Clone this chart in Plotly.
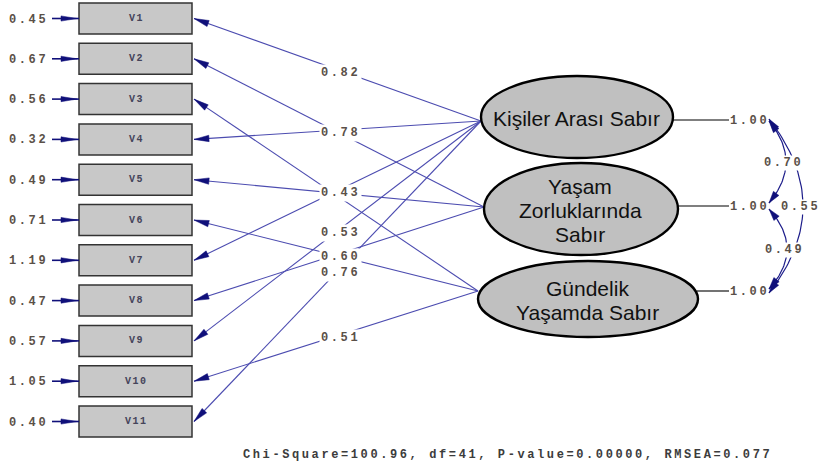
import plotly.graph_objects as go
import numpy as np

# ---------------- data ----------------
observed = ["V1", "V2", "V3", "V4", "V5", "V6", "V7", "V8", "V9", "V10", "V11"]
error_variances = [0.45, 0.67, 0.56, 0.32, 0.49, 0.71, 1.19, 0.47, 0.57, 1.05, 0.40]
latent_label_lines = [["Kişiler Arası Sabır"],
                      ["Yaşam", "Zorluklarında", "Sabır"],
                      ["Gündelik", "Yaşamda Sabır"]]
latent_variances = [1.00, 1.00, 1.00]
indicator_factor = [0, 1, 2, 0, 1, 2, 0, 1, 0, 2, 0]
# loadings whose labels are hidden under other labels in the picture: None
loadings = [0.82, None, None, 0.78, None, None, 0.43, 0.60, 0.53, 0.51, 0.76]
cov_pairs = [(0, 1), (1, 2), (0, 2)]
cov_values = [0.70, 0.49, 0.55]
chi_square = "100.96"
df_value = "41"
p_value = "0.00000"
rmsea = "0.077"

# ---------------- layout / style constants ----------------
W, H = 821, 467
BOX_X0, BOX_X1 = 79, 192
BOX_Y0, BOX_STEP, BOX_HALF = 18.5, 40.3, 15.5
ERR_LABEL_X, ERR_LINE_X0 = 49, 52
LAT_C = [(577, 117), (581, 209), (588, 299)]
LAT_R = [(96, 41), (97, 46), (110, 38)]
LAT_ANCHOR = [(481, 121), (484, 207), (478, 291)]
LAT_LINE_SP = 24
VAR_Y = [120, 206, 291]
VAR_LINE_X1 = 729
VAR_LABEL_X = 748
ARC_X = 769
ARC_ENDS = [(121, 203), (209, 289), (119, 293)]
ARC_PEAK = [786, 787, 803]
ARC_LABEL_X = [783, 784, 800]
LABEL_X, LABEL_DY = 339, 3
TIP_X = 194

LINE_COL = "#4c4cb0"
HEAD_COL = "#10107a"
TXT_COL = "#5a5048"
MONO = "Liberation Mono"
NUM_SIZE, NUM_SP = 12, 2.6


def mono(s, sp=NUM_SP):
    return f'<span style="letter-spacing:{sp}px">{s}</span>'


def head(tip, tail, L=15, w=3.2):
    tip = np.array(tip, float)
    tail = np.array(tail, float)
    d = tip - tail
    d /= np.linalg.norm(d)
    n = np.array([-d[1], d[0]])
    b = tip - L * d
    p1, p2 = b + w * n, b - w * n
    return [tip[0], p1[0], p2[0], tip[0], None], [tip[1], p1[1], p2[1], tip[1], None]


fig = go.Figure()
shapes = []
ann = []

box_y = [BOX_Y0 + i * BOX_STEP for i in range(len(observed))]

# observed boxes + error arrows
hx, hy = [], []
ex, ey = [], []
for i, name in enumerate(observed):
    y = box_y[i]
    shapes.append(dict(type="rect", xref="x", yref="y", x0=BOX_X0, x1=BOX_X1,
                       y0=y - BOX_HALF, y1=y + BOX_HALF,
                       fillcolor="#c8c8c8", line=dict(color="#333333", width=1.5), layer="below"))
    ann.append(dict(x=(BOX_X0 + BOX_X1) / 2 + 1, y=y, text=mono(name, 1.5), showarrow=False,
                    font=dict(family=MONO, size=10, color="#44445a", weight="bold")))
    ann.append(dict(x=ERR_LABEL_X + 1, y=y + 1, xanchor="right", text=mono(f"{error_variances[i]:.2f}"),
                    showarrow=False, font=dict(family=MONO, size=NUM_SIZE, color=TXT_COL, weight="bold")))
    ex += [ERR_LINE_X0, BOX_X0, None]
    ey += [y, y, None]
    a, b = head((BOX_X0 - 2, y), (ERR_LINE_X0, y), L=16, w=2.6)
    hx += a
    hy += b

fig.add_trace(go.Scatter(x=ex, y=ey, mode="lines", line=dict(color=HEAD_COL, width=1.6),
                         hoverinfo="skip", showlegend=False))

# loading paths
lx, ly = [], []
for i, f in enumerate(indicator_factor):
    ax_, ay_ = LAT_ANCHOR[f]
    ty = box_y[i]
    lx += [ax_, TIP_X, None]
    ly += [ay_, ty, None]
    a, b = head((TIP_X, ty), (ax_, ay_), L=15, w=3.2)
    hx += a
    hy += b
    if loadings[i] is not None:
        t = (LABEL_X - TIP_X) / (ax_ - TIP_X)
        yl = ty + t * (ay_ - ty) + LABEL_DY
        ann.append(dict(x=LABEL_X + 1, y=yl, text=mono(f"{loadings[i]:.2f}"), showarrow=False,
                        bgcolor="white", borderpad=1,
                        font=dict(family=MONO, size=NUM_SIZE, color=TXT_COL, weight="bold")))
fig.add_trace(go.Scatter(x=lx, y=ly, mode="lines", line=dict(color=LINE_COL, width=1.1),
                         hoverinfo="skip", showlegend=False))

# latent ellipses
vx, vy = [], []
for k, lines in enumerate(latent_label_lines):
    cx, cy = LAT_C[k]
    rx, ry = LAT_R[k]
    shapes.append(dict(type="circle", xref="x", yref="y", x0=cx - rx, x1=cx + rx,
                       y0=cy - ry, y1=cy + ry, fillcolor="#c0c0c0",
                       line=dict(color="black", width=2.4)))
    n = len(lines)
    for j, s in enumerate(lines):
        ann.append(dict(x=cx - 1, y=cy + (j - (n - 1) / 2) * LAT_LINE_SP + 1, text=s, showarrow=False,
                        font=dict(family="Liberation Sans", size=21, color="#111111")))
    vx += [cx + rx - 1, VAR_LINE_X1, None]
    vy += [VAR_Y[k], VAR_Y[k], None]
    ann.append(dict(x=VAR_LABEL_X + 1, y=VAR_Y[k] + 1, text=mono(f"{latent_variances[k]:.2f}"),
                    showarrow=False, font=dict(family=MONO, size=NUM_SIZE, color=TXT_COL, weight="bold")))
fig.add_trace(go.Scatter(x=vx, y=vy, mode="lines", line=dict(color="black", width=1.1),
                         hoverinfo="skip", showlegend=False))

# covariance arcs
for (p, q), val, (y0, y1), px, lab_x in zip(cov_pairs, cov_values, ARC_ENDS, ARC_PEAK, ARC_LABEL_X):
    cx = 2 * px - ARC_X
    cy = (y0 + y1) / 2
    tt = np.linspace(0, 1, 60)
    bx = (1 - tt) ** 2 * ARC_X + 2 * (1 - tt) * tt * cx + tt ** 2 * ARC_X
    by = (1 - tt) ** 2 * y0 + 2 * (1 - tt) * tt * cy + tt ** 2 * y1
    fig.add_trace(go.Scatter(x=bx, y=by, mode="lines", line=dict(color="#1c1c8a", width=1.2),
                             hoverinfo="skip", showlegend=False))
    a, b = head((ARC_X, y0), (bx[6], by[6]), L=12, w=3.4)
    hx += a
    hy += b
    a, b = head((ARC_X, y1), (bx[-7], by[-7]), L=12, w=3.4)
    hx += a
    hy += b
    ann.append(dict(x=lab_x, y=cy + 1, text=mono(f"{val:.2f}"), showarrow=False,
                    bgcolor="white", borderpad=0,
                    font=dict(family=MONO, size=NUM_SIZE, color=TXT_COL, weight="bold")))

fig.add_trace(go.Scatter(x=hx, y=hy, mode="lines", fill="toself", fillcolor=HEAD_COL,
                         line=dict(color=HEAD_COL, width=0.5), hoverinfo="skip", showlegend=False))

ann.append(dict(x=507, y=455, showarrow=False,
                text=mono(f"Chi-Square={chi_square}, df={df_value}, P-value={p_value}, RMSEA={rmsea}"),
                font=dict(family=MONO, size=NUM_SIZE, color="#3c3c3c", weight="bold")))

for a in ann:
    a.setdefault("xref", "x")
    a.setdefault("yref", "y")

fig.update_layout(
    width=W, height=H, margin=dict(l=0, r=0, t=0, b=0),
    paper_bgcolor="white", plot_bgcolor="white",
    xaxis=dict(range=[0, W], visible=False, fixedrange=True),
    yaxis=dict(range=[H, 0], visible=False, fixedrange=True),
    shapes=shapes, annotations=ann, showlegend=False,
)
fig.write_html("out.html", config={"displayModeBar": False},
               post_script="document.body.style.margin='0px';document.body.style.overflow='hidden';")
